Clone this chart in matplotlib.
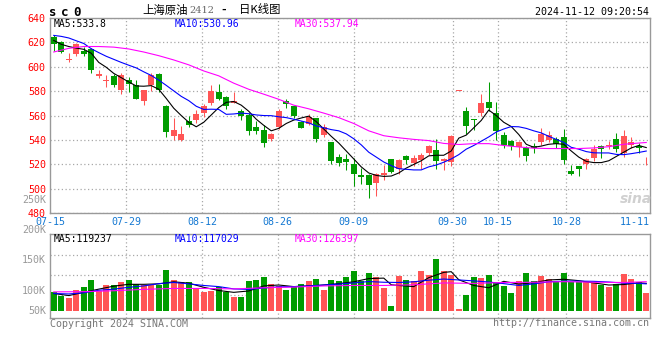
import matplotlib
matplotlib.use('Agg')
import matplotlib.pyplot as plt
import numpy as np
import pandas as pd

plt.rcParams['font.family'] = ['DejaVu Sans Mono']

# 交易日 (INE 上海原油 sc2412 日K)
holidays = ['2024-09-16', '2024-09-17', '2024-10-01', '2024-10-02', '2024-10-03',
            '2024-10-04', '2024-10-07']
days = pd.bdate_range('2024-07-15', '2024-11-12')
days = days[~days.isin(pd.to_datetime(holidays))]
dates = [d.strftime('%m-%d') for d in days]

label_dates = ['07-15', '07-29', '08-12', '08-26', '09-09', '09-30', '10-15', '10-28', '11-11']

opens = [624.6, 620.5, 606.0, 610.5, 613.2, 614.3, 592.0, 588.6, 592.0, 581.1,
         589.3, 585.2, 571.6, 585.2, 594.2, 568.0, 543.6, 540.3, 555.2, 556.1,
         562.0, 570.2, 579.5, 574.8, 569.9, 564.0, 560.7, 550.4, 548.5, 541.1,
         550.6, 571.6, 567.6, 554.8, 553.2, 557.6, 544.0, 538.5, 526.3, 524.1,
         520.6, 511.3, 511.0, 505.1, 511.0, 524.1, 515.9, 526.8, 521.2, 523.4,
         529.4, 531.6, 522.6, 521.8, 580.3, 564.0, 557.4, 562.0, 571.3, 562.0,
         544.4, 538.9, 534.3, 533.5, 535.0, 538.5, 539.9, 541.2, 542.3, 514.6,
         518.7, 520.0, 524.9, 535.0, 535.6, 540.4, 529.5, 535.8, 535.0, 521.9]
highs = [626.0, 621.0, 611.6, 619.2, 616.5, 615.1, 597.4, 593.3, 593.9, 595.2,
         591.2, 589.3, 581.1, 594.7, 594.7, 568.9, 558.0, 551.2, 559.9, 564.8,
         569.7, 584.6, 586.0, 576.2, 578.9, 565.3, 562.0, 555.2, 552.5, 545.7,
         565.3, 573.5, 568.0, 555.9, 561.4, 558.1, 552.7, 538.5, 528.7, 528.2,
         525.5, 516.8, 511.9, 513.2, 519.5, 524.1, 524.1, 527.6, 528.0, 529.4,
         536.2, 540.8, 525.3, 544.4, 580.3, 566.7, 557.4, 577.8, 587.6, 571.3,
         546.3, 540.3, 538.9, 534.8, 537.7, 549.9, 547.2, 542.3, 548.6, 519.5,
         518.7, 525.5, 536.3, 536.3, 539.0, 545.9, 547.8, 542.3, 537.7, 526.0]
lows = [613.2, 611.6, 604.2, 608.8, 608.8, 594.7, 590.4, 583.3, 583.0, 578.0,
        578.9, 573.5, 568.9, 579.7, 578.9, 542.5, 540.3, 538.9, 550.6, 553.9,
        558.8, 568.8, 572.4, 565.3, 569.9, 556.6, 544.4, 545.2, 534.3, 538.9,
        549.0, 566.1, 558.0, 549.7, 552.1, 538.5, 542.3, 520.6, 518.7, 515.1,
        502.3, 503.7, 492.3, 494.2, 507.5, 512.9, 512.4, 520.0, 518.5, 516.4,
        528.0, 516.4, 515.3, 518.5, 580.3, 544.9, 548.0, 559.3, 563.4, 539.7,
        533.5, 532.1, 526.1, 522.6, 529.5, 536.3, 538.5, 533.6, 520.0, 511.3,
        510.5, 515.9, 522.7, 525.5, 532.3, 530.4, 526.0, 533.6, 529.5, 519.5]
closes = [618.6, 612.4, 606.2, 618.6, 610.5, 596.9, 593.6, 588.9, 585.2, 593.3,
          586.0, 573.8, 580.6, 593.3, 581.1, 546.3, 548.5, 545.2, 552.5, 561.5,
          568.0, 580.3, 573.7, 568.0, 572.1, 559.3, 547.1, 547.1, 537.6, 545.2,
          563.4, 569.7, 559.5, 549.7, 559.2, 540.4, 550.8, 522.7, 520.8, 521.9,
          512.4, 509.7, 503.1, 511.9, 513.2, 514.0, 523.3, 523.3, 525.3, 528.0,
          535.4, 522.6, 524.8, 543.6, 580.3, 551.2, 556.1, 570.2, 566.1, 547.1,
          536.2, 534.8, 538.1, 527.2, 533.6, 545.3, 544.0, 536.9, 523.6, 511.9,
          515.9, 524.1, 532.8, 532.3, 536.0, 532.8, 543.1, 538.5, 533.6, 522.1]

# 成交量 (K手)
volume = [83.0, 65.5, 56.8, 90.3, 104.8, 133.8, 85.9, 112.1, 112.1, 126.6,
          133.8, 115.0, 112.1, 112.1, 112.1, 177.4, 133.8, 126.6, 126.6, 97.5,
          83.0, 85.9, 104.8, 83.0, 61.2, 61.2, 129.5, 133.8, 148.4, 115.0,
          107.7, 90.3, 104.8, 115.0, 129.5, 138.2, 90.3, 133.8, 129.5, 148.4,
          173.1, 129.5, 162.9, 148.4, 100.4, 20.5, 152.7, 133.8, 129.5, 173.1,
          155.7, 226.9, 173.1, 155.7, 7.4, 68.4, 148.4, 144.0, 155.7, 126.6,
          107.7, 77.2, 129.5, 162.9, 129.5, 151.3, 138.2, 126.6, 164.4, 123.7,
          123.7, 126.6, 126.6, 112.1, 103.3, 117.9, 160.0, 138.2, 126.6, 77.2]

# 均线
ma5 = [621.5, 618.3, 616.5, 615.2, 614.2, 611.0, 603.5, 599.5, 594.5, 591.0,
       587.5, 584.2, 584.0, 584.5, 581.5, 574.0, 566.0, 560.0, 554.5, 550.8,
       554.5, 560.5, 566.5, 570.8, 571.5, 568.5, 563.5, 557.0, 552.0, 547.5,
       549.5, 553.5, 556.3, 558.0, 559.5, 555.0, 549.0, 543.0, 537.5, 531.0,
       524.5, 518.0, 513.0, 511.0, 510.2, 510.5, 513.0, 517.0, 520.0, 523.0,
       527.0, 527.5, 527.5, 531.0, 541.5, 544.0, 550.0, 556.0, 564.5, 560.0,
       554.5, 551.0, 544.5, 536.5, 534.0, 535.0, 536.5, 537.0, 536.5, 531.0,
       526.0, 522.5, 521.5, 521.5, 523.0, 526.5, 530.0, 533.5, 535.5, 533.8]
ma10 = [625.6, 624.8, 623.5, 621.2, 619.0, 614.7, 611.5, 608.5, 606.0, 603.5,
        601.2, 599.0, 595.8, 592.8, 589.0, 584.7, 580.2, 575.7, 572.2, 567.6,
        565.0, 565.2, 565.0, 561.0, 561.3, 562.0, 561.5, 560.5, 560.0, 559.9,
        559.0, 558.3, 557.0, 555.5, 554.0, 551.5, 550.0, 548.5, 547.5, 545.0,
        541.0, 536.0, 530.0, 526.0, 522.0, 519.0, 516.5, 516.0, 515.5, 515.5,
        518.0, 519.5, 521.8, 524.5, 528.0, 532.5, 535.5, 539.0, 542.5, 546.5,
        549.0, 551.0, 550.8, 549.5, 547.5, 545.8, 543.0, 540.5, 538.0, 534.0,
        532.5, 530.5, 529.5, 529.4, 529.4, 528.2, 528.0, 528.8, 529.8, 530.96]
ma30_i = list(range(0, 80, 2)) + [79]
ma30 = [612.0, 615.0, 616.5, 616.5, 616.0, 614.5, 612.0, 609.0, 605.5, 601.5,
        596.5, 592.5, 586.5, 581.5, 577.5, 573.3, 568.5, 565.5, 562.0, 558.3,
        553.5, 547.5, 543.5, 541.8, 540.5, 539.5, 537.2, 536.3, 537.0, 537.0,
        535.5, 534.3, 533.3, 533.0, 533.0, 533.0, 533.5, 534.5, 536.5, 537.5, 537.94]

vma5_i = [0, 2, 4, 6, 8, 10, 12, 14, 16, 18, 20, 22, 24, 26, 28, 30, 32, 34, 36, 38,
          40, 42, 44, 45, 46, 48, 50, 52, 53, 54, 56, 58, 60, 62, 64, 66, 68, 70,
          72, 74, 76, 78, 79]
vma5 = [75, 66, 80, 94, 107, 115, 115, 117, 126, 120, 102, 88, 80, 86, 108, 112, 105,
        108, 112, 118, 126, 140, 142, 113, 110, 105, 144, 167, 170, 135, 110, 100,
        128, 116, 122, 134, 137, 131, 121, 112, 114, 122, 119.2]
vma10_i = list(range(0, 80, 2)) + [79]
vma10 = [75, 73, 78, 89, 94, 102, 108, 118, 123, 117, 110, 105, 95, 93, 99, 104,
         105, 108, 112, 116, 121, 127, 124, 123, 126, 133, 138, 134, 130, 125, 118,
         110, 117, 126, 129, 129, 128, 125, 120, 119, 117.0]
vma30_i = list(range(0, 80, 4)) + [79]
vma30 = [82, 83, 87, 93, 97, 97, 95, 100, 103, 108, 110, 110, 113, 121, 119, 123,
         124, 126.5, 124, 123, 126.4]

RED = '#FF5555'
GREEN = '#009C00'
GRID = '#A8A8A8'
W, H = 660, 360


def fx(px):
    return px / W


def fy(py):
    return 1 - py / H


fig = plt.figure(figsize=(6.6, 3.6), dpi=100)
ax = fig.add_axes([fx(50), fy(213.3), 600 / W, (213.3 - 17.8) / H])
axv = fig.add_axes([fx(50), fy(318), 600 / W, (318 - 234.3) / H])

n = len(dates)
x = np.arange(n)
o = np.array(opens)
c = np.array(closes)
up = c >= o
col = np.where(up, RED, GREEN)

# K线
ax.vlines(x, lows, highs, colors=col, lw=0.75, zorder=3)
body = np.abs(c - o)
hgt = np.maximum(body, 0.7)
ax.bar(x, hgt, bottom=np.minimum(o, c) - (hgt - body) / 2, width=0.76,
       color=col, linewidth=0, zorder=4)
ax.plot(x, ma5, color='black', lw=0.8, zorder=5)
ax.plot(x, ma10, color='#0000FF', lw=0.8, zorder=5)
ax.plot(ma30_i, ma30, color='#FF00FF', lw=0.8, zorder=5)

ax.set_xlim(-0.5, n - 0.5)
ax.set_ylim(480, 640)
ax.set_yticks(range(480, 641, 20))
ax.yaxis.grid(True, ls=(0, (1, 2)), color=GRID, lw=0.9)
ax.tick_params(axis='y', length=0, pad=3, labelsize=7.2, labelcolor='#FF0000')
ax.set_xticks([])

# 成交量
axv.bar(x, volume, width=0.76, color=col, linewidth=0, zorder=3)
axv.plot(vma5_i, vma5, color='black', lw=0.8, zorder=4)
axv.plot(vma10_i, vma10, color='#0000FF', lw=0.8, zorder=4)
axv.plot(vma30_i, vma30, color='#FF00FF', lw=0.8, zorder=4)
axv.set_xlim(-0.5, n - 0.5)
axv.set_ylim(-31.8, 333)
axv.set_xticks([])
axv.set_yticks([])
for f in [0.271, 0.510, 0.749]:
    axv.plot([0, 1], [f, f], transform=axv.transAxes, ls=(0, (1, 2)),
             color=GRID, lw=0.9, zorder=1)

# 日期刻度 (新浪网格按 n-1 等分)
tick_x = [dates.index(d) * n / (n - 1) - 0.5 for d in label_dates]
for k, (tx, lab) in enumerate(zip(tick_x, label_dates)):
    if 0 < k < len(label_dates) - 1:
        for a in (ax, axv):
            a.axvline(tx, ls=(0, (1, 2)), color=GRID, lw=0.9, zorder=1)
    if k == len(label_dates) - 1:
        ax.text(n - 0.5, -8.4 / 195.5, lab, transform=ax.get_xaxis_transform(),
                ha='right', va='center', fontsize=7.2, color='#1478D2')
    else:
        ax.text(tx, -8.4 / 195.5, lab, transform=ax.get_xaxis_transform(),
                ha='center', va='center', fontsize=7.2, color='#1478D2')

for a in (ax, axv):
    for s in a.spines.values():
        s.set_color('#999999')
        s.set_linewidth(1)

# 成交量刻度文字
for lab, py in [('250K', 200), ('200K', 230), ('150K', 260), ('100K', 290.5), ('50K', 311)]:
    fig.text(fx(46), fy(py), lab, ha='right', va='center', fontsize=7.2, color='#999999')

# 标题
for ch, px in zip('sc0', [52.5, 64.5, 77]):
    fig.text(fx(px), fy(12), ch, ha='center', va='center', fontsize=9,
             fontweight='bold', color='black')
cjk = ['Noto Sans CJK SC', 'DejaVu Sans']
fig.text(fx(142), fy(10), '上海原油', family=cjk, ha='left', va='center', fontsize=8.2)
fig.text(fx(189), fy(10.5), '2412', family=['DejaVu Serif'], ha='left', va='center',
         fontsize=7, color='#666666')
fig.text(fx(224), fy(10), '-', ha='center', va='center', fontsize=8, fontweight='bold')
fig.text(fx(239), fy(10), '日K线图', family=cjk, ha='left', va='center', fontsize=8.2)
fig.text(fx(649), fy(12), '2024-11-12 09:20:54', ha='right', va='center', fontsize=7.2)

# 均线图例
for txt, px, cl in [('MA5:533.8', 54, 'black'), ('MA10:530.96', 175, '#0000FF'),
                    ('MA30:537.94', 295, '#FF00FF')]:
    fig.text(fx(px), fy(24), txt, ha='left', va='center', fontsize=7, color=cl)
for txt, px, cl in [('MA5:119237', 54, 'black'), ('MA10:117029', 175, '#0000FF'),
                    ('MA30:126397', 295, '#FF00FF')]:
    fig.text(fx(px), fy(239), txt, ha='left', va='center', fontsize=7, color=cl)

# 水印和页脚
fig.text(fx(636), fy(199), 'sina', family=['DejaVu Sans'], ha='center', va='center',
         fontsize=10, fontweight='bold', style='italic', color='#D0D0D0', zorder=0)
fig.text(fx(50), fy(324), 'Copyright 2024 SINA.COM', ha='left', va='center',
         fontsize=7.2, color='#777777')
fig.text(fx(649), fy(323), 'http://finance.sina.com.cn', ha='right', va='center',
         fontsize=7.2, color='#777777')

fig.savefig('out.png', dpi=100)
